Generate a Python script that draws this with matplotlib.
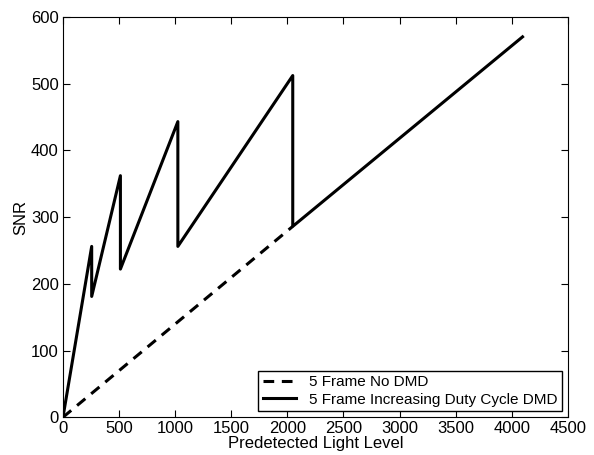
import matplotlib
matplotlib.use("Agg")
import matplotlib.pyplot as plt

plt.rcParams["font.family"] = ["Liberation Sans", "DejaVu Sans"]

# 5 frame, no DMD
light_nodmd = [0, 2048]
snr_nodmd = [0, 286]

# 5 frame, increasing duty cycle DMD
light_dmd = [0, 256, 256, 512, 512, 1024, 1024, 2048, 2048, 4096]
snr_dmd = [0, 256, 181, 362, 222, 443, 256, 512, 286, 570]

fig = plt.figure(figsize=(5.94, 4.55), dpi=100)
ax = fig.add_axes([0.106, 0.083, 0.85, 0.88])

ax.plot(light_nodmd, snr_nodmd, "k--", lw=2.2, dashes=(3.5, 2.5), label="5 Frame No DMD")
ax.plot(light_dmd, snr_dmd, "k-", lw=2.2, label="5 Frame Increasing Duty Cycle DMD")

ax.set_xlim(0, 4500)
ax.set_ylim(0, 600)
ax.set_xticks(range(0, 4501, 500))
ax.set_yticks(range(0, 601, 100))
ax.tick_params(direction="in", top=True, right=True, labelsize=12, length=5, pad=3)
ax.set_xlabel("Predetected Light Level", fontsize=12, labelpad=0)
ax.set_ylabel("SNR", fontsize=12, labelpad=2)

leg = ax.legend(loc="lower right", fontsize=11, fancybox=False, edgecolor="black",
                framealpha=1, borderaxespad=0.4, handlelength=2.2, borderpad=0.3,
                labelspacing=0.2)
leg.get_frame().set_linewidth(1.0)

fig.savefig("out.png", dpi=100)
